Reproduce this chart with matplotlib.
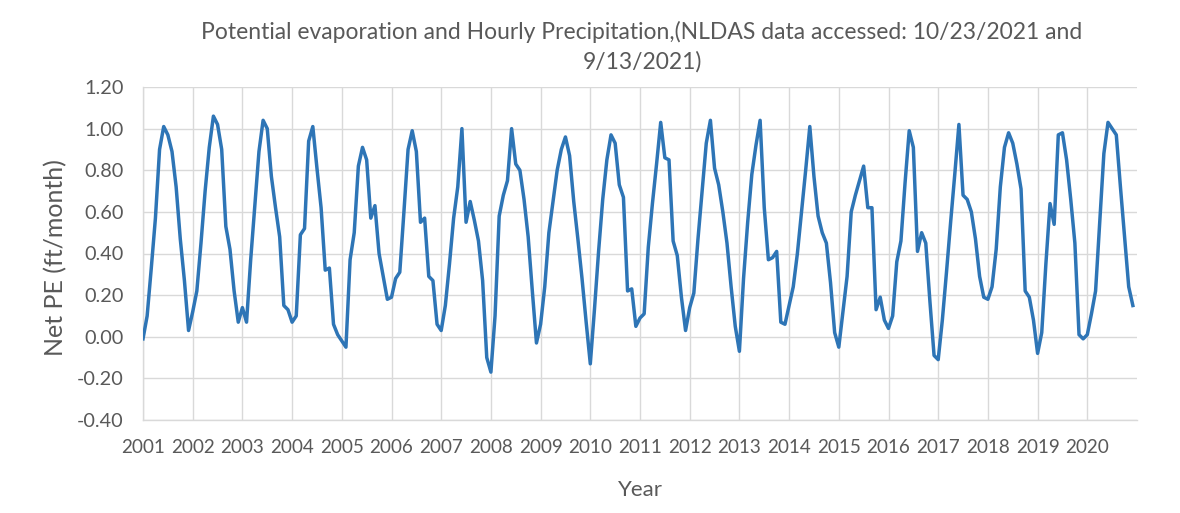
import matplotlib
matplotlib.use("Agg")
import matplotlib.pyplot as plt
import numpy as np

# Monthly net potential evaporation (ft/month), Jan 2001 - Dec 2020
years = list(range(2001, 2021))
net_pe = {
    2001: [-0.01, 0.10, 0.33, 0.57, 0.90, 1.01, 0.97, 0.89, 0.72, 0.47, 0.27, 0.03],
    2002: [0.12, 0.22, 0.45, 0.70, 0.91, 1.06, 1.02, 0.90, 0.53, 0.42, 0.22, 0.07],
    2003: [0.14, 0.07, 0.37, 0.63, 0.89, 1.04, 1.00, 0.77, 0.62, 0.48, 0.15, 0.13],
    2004: [0.07, 0.10, 0.49, 0.52, 0.94, 1.01, 0.81, 0.62, 0.32, 0.33, 0.06, 0.01],
    2005: [-0.02, -0.05, 0.37, 0.50, 0.82, 0.91, 0.85, 0.57, 0.63, 0.40, 0.29, 0.18],
    2006: [0.19, 0.28, 0.31, 0.60, 0.90, 0.99, 0.89, 0.55, 0.57, 0.29, 0.27, 0.06],
    2007: [0.03, 0.15, 0.35, 0.57, 0.72, 1.00, 0.55, 0.65, 0.56, 0.46, 0.27, -0.10],
    2008: [-0.17, 0.10, 0.58, 0.68, 0.75, 1.00, 0.83, 0.80, 0.66, 0.48, 0.22, -0.03],
    2009: [0.06, 0.24, 0.50, 0.65, 0.80, 0.90, 0.96, 0.87, 0.65, 0.47, 0.28, 0.07],
    2010: [-0.13, 0.13, 0.41, 0.66, 0.85, 0.97, 0.93, 0.73, 0.67, 0.22, 0.23, 0.05],
    2011: [0.09, 0.11, 0.43, 0.64, 0.83, 1.03, 0.86, 0.85, 0.46, 0.39, 0.19, 0.03],
    2012: [0.14, 0.21, 0.47, 0.70, 0.93, 1.04, 0.81, 0.73, 0.60, 0.45, 0.24, 0.05],
    2013: [-0.07, 0.28, 0.55, 0.78, 0.92, 1.04, 0.62, 0.37, 0.38, 0.41, 0.07, 0.06],
    2014: [0.15, 0.24, 0.40, 0.60, 0.80, 1.01, 0.77, 0.58, 0.50, 0.45, 0.26, 0.02],
    2015: [-0.05, 0.12, 0.29, 0.60, 0.68, 0.75, 0.82, 0.62, 0.62, 0.13, 0.19, 0.08],
    2016: [0.04, 0.10, 0.36, 0.46, 0.74, 0.99, 0.91, 0.41, 0.50, 0.45, 0.17, -0.09],
    2017: [-0.11, 0.08, 0.31, 0.55, 0.78, 1.02, 0.68, 0.66, 0.60, 0.47, 0.29, 0.19],
    2018: [0.18, 0.24, 0.42, 0.72, 0.91, 0.98, 0.93, 0.83, 0.71, 0.22, 0.19, 0.08],
    2019: [-0.08, 0.02, 0.35, 0.64, 0.54, 0.97, 0.98, 0.85, 0.66, 0.45, 0.01, -0.01],
    2020: [0.01, 0.11, 0.22, 0.55, 0.88, 1.03, 1.00, 0.97, 0.72, 0.48, 0.24, 0.15],
}
year_labels = [str(y) for y in years]
y_ticks = [-0.40, -0.20, 0.00, 0.20, 0.40, 0.60, 0.80, 1.00, 1.20]

values = np.concatenate([net_pe[y] for y in years])
months = np.arange(len(values))

FONT = ["Lato", "DejaVu Sans"]
TEXT = "#595959"
GRID = "#d9d9d9"
LINE = "#2E75B6"

W, H = 1180, 513
fig = plt.figure(figsize=(W / 100, H / 100), dpi=100)
ax = fig.add_axes([143 / W, (H - 420) / H, (1137 - 143) / W, (420 - 87) / H])

ax.plot(months, values, color=LINE, lw=2.5, solid_joinstyle="round", zorder=3)

ax.set_xlim(0, 240)
ax.set_ylim(-0.40, 1.20)
ax.set_yticks(y_ticks)
ax.set_yticklabels([f"{t:.2f}" for t in y_ticks], fontsize=14.3, color=TEXT, family=FONT)
ax.set_xticks(np.arange(len(years)) * 12)
ax.set_xticklabels(year_labels, fontsize=13.6, color=TEXT, family=FONT)
ax.tick_params(length=0)
ax.tick_params(axis="x", pad=14)
ax.tick_params(axis="y", pad=14)

ax.grid(True, color=GRID, lw=1.0, zorder=0)
for side in ("top", "right"):
    ax.spines[side].set_visible(False)
for side in ("left", "bottom"):
    ax.spines[side].set_color(GRID)
    ax.spines[side].set_linewidth(1.0)

ax.set_xlabel("Year", fontsize=16, color=TEXT, family=FONT)
ax.xaxis.set_label_coords(0.5, -(490 - 420) / (420 - 87), transform=ax.transAxes)
ax.set_ylabel("Net PE (ft/month)", fontsize=18, color=TEXT, family=FONT)
ax.yaxis.set_label_coords(-(143 - 56) / (1137 - 143), (420 - 258) / (420 - 87),
                          transform=ax.transAxes)
ax.xaxis.label.set_verticalalignment("center")
ax.yaxis.label.set_verticalalignment("center")

fig.text(642 / W, 1 - 32 / H,
         "Potential evaporation and Hourly Precipitation,(NLDAS data accessed: 10/23/2021 and",
         ha="center", va="center", fontsize=16.5, color=TEXT, family=FONT)
fig.text(642 / W, 1 - 62 / H, "9/13/2021)",
         ha="center", va="center", fontsize=16.5, color=TEXT, family=FONT)

fig.savefig("out.png", dpi=100, facecolor="white")
